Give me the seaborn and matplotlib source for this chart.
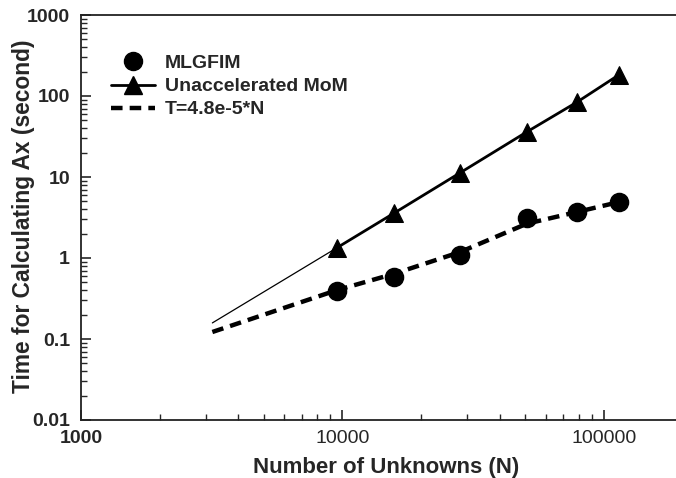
import matplotlib
matplotlib.use("Agg")
import matplotlib.pyplot as plt
from matplotlib.lines import Line2D
from matplotlib.ticker import LogLocator, NullFormatter, FixedLocator, FixedFormatter
import seaborn as sns
import pandas as pd

# ---- data ----
n_points = [9500, 15800, 28100, 50700, 78900, 114000]
mlgfim = [0.39, 0.58, 1.09, 3.1, 3.7, 4.9]
mom = [1.33, 3.6, 11.2, 36, 84, 182]
extrap_n = [3180, 9500]
extrap_t = [0.158, 1.33]
fit_n = [3180, 9500, 15800, 28100, 50700, 78900, 114000]
fit_t = [0.122, 0.40, 0.64, 1.18, 2.65, 3.7, 4.9]
x_ticks = [1000, 10000, 100000]
x_tick_labels = ["1000", "10000", "100000"]
y_ticks = [0.01, 0.1, 1, 10, 100, 1000]
y_tick_labels = ["0.01", "0.1", "1", "10", "100", "1000"]

sns.set_style("ticks")
plt.rcParams["font.family"] = ["Liberation Sans", "DejaVu Sans"]
plt.rcParams["font.weight"] = "bold"

fig = plt.figure(figsize=(6.76, 4.78), dpi=100)
ax = fig.add_axes([81 / 676, 58 / 478, 1 - 81 / 676, 405 / 478])
ax.set_xscale("log")
ax.set_yscale("log")

df_mom = pd.DataFrame({"N": n_points, "T": mom})
df_ml = pd.DataFrame({"N": n_points, "T": mlgfim})
df_ex = pd.DataFrame({"N": extrap_n, "T": extrap_t})
df_fit = pd.DataFrame({"N": fit_n, "T": fit_t})

sns.lineplot(data=df_ex, x="N", y="T", ax=ax, color="black", lw=0.9, sort=False)
sns.lineplot(data=df_fit, x="N", y="T", ax=ax, color="black", lw=3.2,
             sort=False, dashes=False, linestyle=(0, (2.6, 1.6)))
sns.lineplot(data=df_mom, x="N", y="T", ax=ax, color="black", lw=2.0, sort=False,
             marker="^", markersize=13, markeredgecolor="black")
sns.scatterplot(data=df_ml, x="N", y="T", ax=ax, color="black", s=170,
                edgecolor="black", zorder=5)

xmax = 10 ** (5 + (676 - 604) / 261)
ax.set_xlim(1000, xmax)
ax.set_ylim(0.01, 1000)

ax.xaxis.set_major_locator(FixedLocator(x_ticks))
ax.xaxis.set_major_formatter(FixedFormatter(x_tick_labels))
ax.yaxis.set_major_locator(FixedLocator(y_ticks))
ax.yaxis.set_major_formatter(FixedFormatter(y_tick_labels))
ax.xaxis.set_minor_locator(LogLocator(base=10, subs=range(2, 10)))
ax.yaxis.set_minor_locator(LogLocator(base=10, subs=range(2, 10)))
ax.xaxis.set_minor_formatter(NullFormatter())
ax.yaxis.set_minor_formatter(NullFormatter())

ax.tick_params(which="major", direction="in", length=7, width=1.2, labelsize=14)
ax.tick_params(axis="x", which="major", pad=7.5)
ax.tick_params(axis="y", which="major", pad=8)
ax.tick_params(which="minor", direction="in", length=4, width=1.0)
ax.tick_params(axis="y", which="both", right=False)
ax.tick_params(axis="x", which="both", top=False)

for lbl in ax.get_yticklabels():
    lbl.set_fontweight("bold")
xl = ax.get_xticklabels()
for i, lbl in enumerate(xl):
    lbl.set_fontweight("bold" if i == 0 else "normal")

for s in ["left", "bottom", "top"]:
    ax.spines[s].set_linewidth(1.3)
    ax.spines[s].set_color("#222222")
ax.spines["right"].set_visible(False)

ax.set_xlabel("Number of Unknowns (N)", fontsize=16, fontweight="bold")
ax.set_ylabel("Time for Calculating Ax (second)", fontsize=16.4, fontweight="bold")
ax.xaxis.set_label_coords(0.512, -0.091)
ax.yaxis.set_label_coords(-0.077, 0.504)

handles = [
    Line2D([], [], color="black", marker="o", markersize=13, linestyle="none"),
    Line2D([], [], color="black", marker="^", markersize=13, lw=2.0),
    Line2D([], [], color="black", lw=3.2, linestyle=(0, (2.6, 1.6))),
]
labels = ["MLGFIM", "Unaccelerated MoM", "T=4.8e-5*N"]
leg = ax.legend(handles, labels, loc="upper left", bbox_to_anchor=(0.05, 0.902),
                frameon=False, fontsize=14, handlelength=2.3, handletextpad=0.5,
                labelspacing=0.28, borderaxespad=0, borderpad=0)
for t in leg.get_texts():
    t.set_fontweight("bold")

fig.savefig("out.png", dpi=100)
